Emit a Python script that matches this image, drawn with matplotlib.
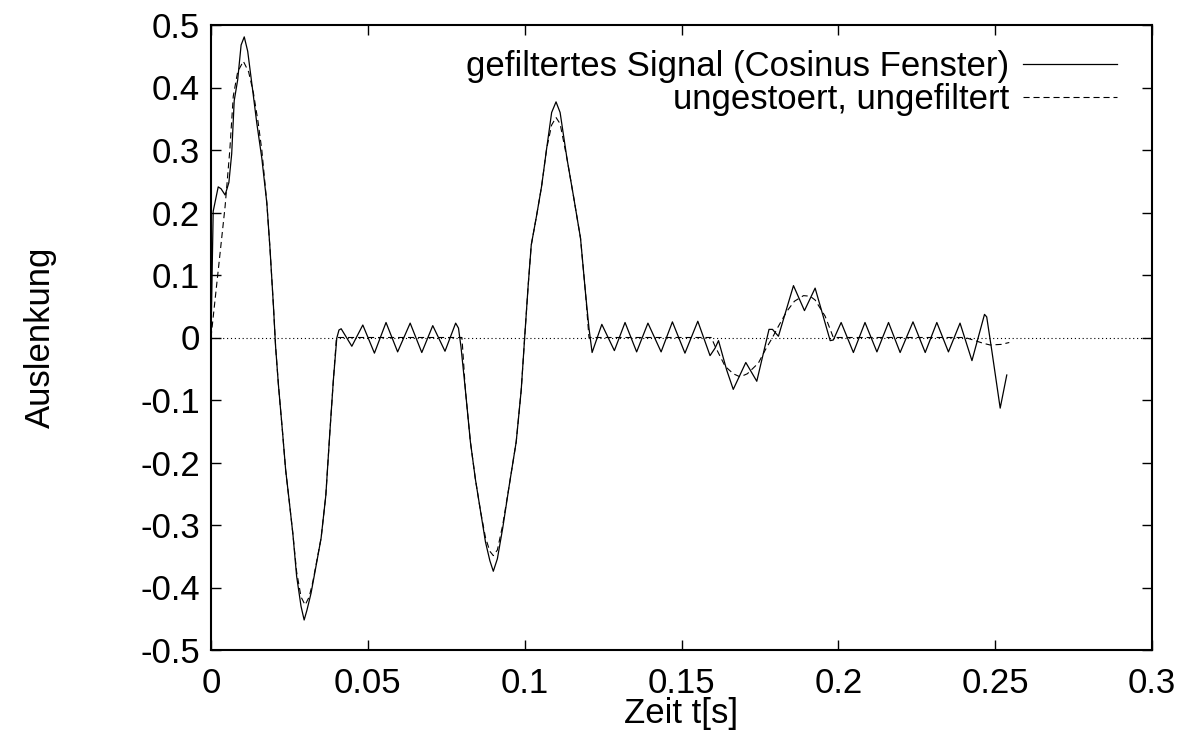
import numpy as np
import matplotlib
matplotlib.use("Agg")
import matplotlib.pyplot as plt

# Werte (Zeit in s, Auslenkung)
t_filt = [0.0, 0.0007, 0.0023, 0.0032, 0.0045, 0.0057, 0.0066, 0.0074, 0.0085, 0.0096,
          0.0106, 0.0117, 0.0132, 0.0146, 0.0162, 0.0178, 0.0188, 0.0199, 0.0206, 0.0215,
          0.0228, 0.0238, 0.0249, 0.0261, 0.0273, 0.0287, 0.0297, 0.0306, 0.0319, 0.0334,
          0.0351, 0.0366, 0.0379, 0.0390, 0.0401, 0.0408, 0.0415,
          0.0449, 0.0484, 0.0521, 0.0558, 0.0595, 0.0635, 0.0672, 0.0707, 0.0746, 0.0780,
          0.0789, 0.0797,
          0.0811, 0.0827, 0.0843, 0.0859, 0.0875, 0.0889, 0.0900, 0.0913, 0.0930, 0.0951,
          0.0973, 0.0989, 0.1000, 0.1011, 0.1021, 0.1038, 0.1054, 0.1070, 0.1086, 0.1100,
          0.1113, 0.1135, 0.1156, 0.1178, 0.1194, 0.1205, 0.1215,
          0.1246, 0.1286, 0.1320, 0.1357, 0.1393, 0.1435, 0.1471, 0.1511, 0.1552, 0.1591,
          0.1607, 0.1618,
          0.1644, 0.1665, 0.1705, 0.1740, 0.1779, 0.1790, 0.1809, 0.1857, 0.1892, 0.1926,
          0.1974, 0.1984, 0.2009,
          0.2048, 0.2085, 0.2123, 0.2160, 0.2197, 0.2238, 0.2277, 0.2314, 0.2351, 0.2388,
          0.2426, 0.2466, 0.2473, 0.2489, 0.2516, 0.2537]
u_filt = [0.0, 0.202, 0.241, 0.238, 0.228, 0.248, 0.294, 0.379, 0.412, 0.468,
          0.481, 0.458, 0.399, 0.343, 0.287, 0.215, 0.143, 0.051, -0.015, -0.076,
          -0.151, -0.212, -0.26, -0.314, -0.382, -0.43, -0.452, -0.436, -0.409, -0.368,
          -0.321, -0.253, -0.151, -0.069, -0.001, 0.012, 0.014,
          -0.014, 0.020, -0.025, 0.024, -0.023, 0.023, -0.024, 0.019, -0.022, 0.023,
          0.015, -0.015,
          -0.084, -0.167, -0.227, -0.277, -0.327, -0.357, -0.374, -0.354, -0.305, -0.236,
          -0.167, -0.084, 0.0, 0.082, 0.148, 0.195, 0.242, 0.302, 0.360, 0.377,
          0.360, 0.286, 0.225, 0.159, 0.071, 0.015, -0.024,
          0.021, -0.021, 0.024, -0.023, 0.023, -0.023, 0.025, -0.025, 0.026, -0.029,
          -0.017, -0.005,
          -0.052, -0.083, -0.040, -0.070, 0.013, 0.013, 0.002, 0.083, 0.043, 0.079,
          -0.005, -0.004, 0.024,
          -0.024, 0.024, -0.023, 0.024, -0.024, 0.025, -0.024, 0.024, -0.023, 0.023,
          -0.037, 0.037, 0.033, -0.020, -0.113, -0.060]

t_orig = [0.0, 0.0045, 0.006, 0.0071, 0.0085, 0.0103, 0.012, 0.0135, 0.015, 0.0162,
          0.0178, 0.0188, 0.0199, 0.0206, 0.0215, 0.0228, 0.0238, 0.0249, 0.0261, 0.0273,
          0.0287, 0.0300, 0.0313, 0.0325, 0.0340, 0.0351, 0.0366, 0.0379, 0.0390, 0.0400,
          0.0800, 0.0811, 0.0827, 0.0843, 0.0859, 0.0875, 0.0889, 0.0900, 0.0913, 0.0930,
          0.0951, 0.0973, 0.0989, 0.1000, 0.1011, 0.1021, 0.1038, 0.1054, 0.1070, 0.1086,
          0.1100, 0.1113, 0.1135, 0.1156, 0.1178, 0.1194, 0.1205,
          0.1595, 0.1607, 0.1639, 0.1665, 0.1687, 0.1710, 0.1745, 0.1767, 0.1790, 0.1809,
          0.1836, 0.1860, 0.1889, 0.1910, 0.1926, 0.1958, 0.1984,
          0.2404, 0.2430, 0.2460, 0.2484, 0.2520, 0.2545]
u_orig = [0.0, 0.210, 0.300, 0.386, 0.425, 0.442, 0.425, 0.392, 0.345, 0.300,
          0.215, 0.143, 0.051, -0.015, -0.076, -0.151, -0.212, -0.260, -0.314, -0.375,
          -0.415, -0.428, -0.415, -0.390, -0.350, -0.321, -0.253, -0.151, -0.069, 0.0,
          0.0, -0.084, -0.167, -0.227, -0.277, -0.320, -0.342, -0.349, -0.340, -0.300,
          -0.236, -0.167, -0.084, 0.0, 0.082, 0.148, 0.195, 0.242, 0.302, 0.340,
          0.352, 0.342, 0.286, 0.225, 0.159, 0.071, 0.0,
          0.0, -0.014, -0.046, -0.058, -0.063, -0.058, -0.041, -0.020, 0.0, 0.018,
          0.042, 0.058, 0.067, 0.066, 0.060, 0.034, 0.0,
          0.0, -0.004, -0.009, -0.012, -0.011, -0.008]

x_ticks = [0, 0.05, 0.1, 0.15, 0.2, 0.25, 0.3]
x_labels = ["0", "0.05", "0.1", "0.15", "0.2", "0.25", "0.3"]
y_ticks = [-0.5, -0.4, -0.3, -0.2, -0.1, 0, 0.1, 0.2, 0.3, 0.4, 0.5]
y_labels = ["-0.5", "-0.4", "-0.3", "-0.2", "-0.1", "0", "0.1", "0.2", "0.3", "0.4", "0.5"]

plt.rcParams['font.family'] = ['Liberation Sans', 'DejaVu Sans']
fs = 25

fig = plt.figure(figsize=(11.83, 7.31), dpi=100)
ax = fig.add_axes([211 / 1183, 1 - 650 / 731, 941 / 1183, 625 / 731])

ax.axhline(0, color='black', lw=0.8, linestyle=(0, (1, 2.5)), zorder=1)
ax.plot(t_filt, u_filt, color='black', lw=0.9, label='gefiltertes Signal (Cosinus Fenster)', zorder=3)
ax.plot(t_orig, u_orig, color='black', lw=0.8, dashes=(5.5, 3.5), label='ungestoert, ungefiltert', zorder=2)

ax.set_xlim(0, 0.3)
ax.set_ylim(-0.5, 0.5)
ax.set_xticks(x_ticks)
ax.set_xticklabels(x_labels)
ax.set_yticks(y_ticks)
ax.set_yticklabels(y_labels)
ax.tick_params(direction='in', length=7, width=1, top=True, right=True, labelsize=fs)
ax.tick_params(axis='x', pad=12)
ax.tick_params(axis='y', pad=8)
for sp in ax.spines.values():
    sp.set_linewidth(1.5)

ax.set_xlabel('Zeit t[s]', fontsize=fs, labelpad=-2)
ax.set_ylabel('Auslenkung', fontsize=fs, labelpad=60)

ax.legend(loc='upper right', bbox_to_anchor=(0.963, 0.96), frameon=False, fontsize=fs,
          markerfirst=False, handlelength=2.7, handletextpad=0.4, labelspacing=0.0,
          borderpad=0, borderaxespad=0)

fig.savefig('out.png', dpi=100)
